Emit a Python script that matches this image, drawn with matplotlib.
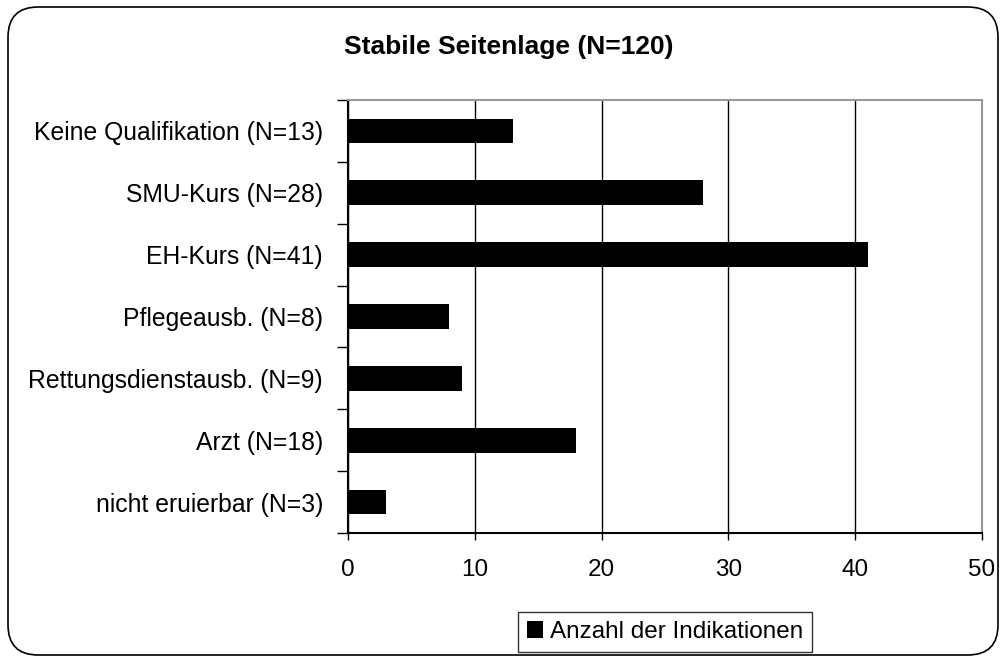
import matplotlib
matplotlib.use("Agg")
import matplotlib.pyplot as plt
from matplotlib.patches import FancyBboxPatch
import numpy as np

plt.rcParams['font.family'] = ['Liberation Sans', 'DejaVu Sans']

categories = ["Keine Qualifikation (N=13)", "SMU-Kurs (N=28)", "EH-Kurs (N=41)",
              "Pflegeausb. (N=8)", "Rettungsdienstausb. (N=9)", "Arzt (N=18)",
              "nicht eruierbar (N=3)"]
values = [13, 28, 41, 8, 9, 18, 3]
xticks = [0, 10, 20, 30, 40, 50]
title = "Stabile Seitenlage (N=120)"
series_name = "Anzahl der Indikationen"

fig = plt.figure(figsize=(10.06, 6.63), dpi=100)

# rounded outer frame
frame = FancyBboxPatch((8 / 1006, 8 / 663), 990 / 1006, 648 / 663,
                       boxstyle="round,pad=0,rounding_size=0.03",
                       transform=fig.transFigure, fill=False,
                       edgecolor="black", linewidth=1.2,
                       mutation_aspect=1006 / 663)
fig.patches.append(frame)

ax = fig.add_axes([348 / 1006, 1 - 533 / 663, (982 - 348) / 1006, (533 - 100) / 663])

n = len(categories)
pos = np.arange(n)
ax.barh(pos, values, height=0.4, color="black", label=series_name, zorder=3)

ax.set_ylim(n - 0.5, -0.5)
ax.set_xlim(0, 50)
ax.set_xticks(xticks)
ax.set_xticklabels([str(t) for t in xticks], fontsize=17.5)
ax.tick_params(axis="x", length=5, width=1, pad=14, color="black")

# ticks at category boundaries, labels at centers
ax.set_yticks(np.arange(-0.5, n, 1))
ax.set_yticklabels([])
ax.tick_params(axis="y", which="major", length=8, width=1)
ax.set_yticks(pos, minor=True)
ax.set_yticklabels(categories, minor=True, fontsize=17.8)
ax.tick_params(axis="y", which="minor", length=0, pad=18)

ax.grid(axis="x", color="black", linewidth=1, zorder=0)
ax.spines["left"].set_color("black")
ax.spines["bottom"].set_color("black")
ax.spines["top"].set_color("#999999")
ax.spines["right"].set_color("#999999")
for s in ax.spines.values():
    s.set_linewidth(1.5)

fig.text(509 / 1006, 1 - 47 / 663, title, ha="center", va="center",
         fontsize=19, fontweight="bold")

leg = fig.legend(loc="center", bbox_to_anchor=(665 / 1006, 1 - 632 / 663),
                 fontsize=17.5, frameon=True, fancybox=False, handlelength=0.65,
                 handleheight=0.65, handletextpad=0.3, borderpad=0.35)
leg.get_frame().set_edgecolor("black")
leg.get_frame().set_linewidth(1)

fig.savefig("out.png", dpi=100)
